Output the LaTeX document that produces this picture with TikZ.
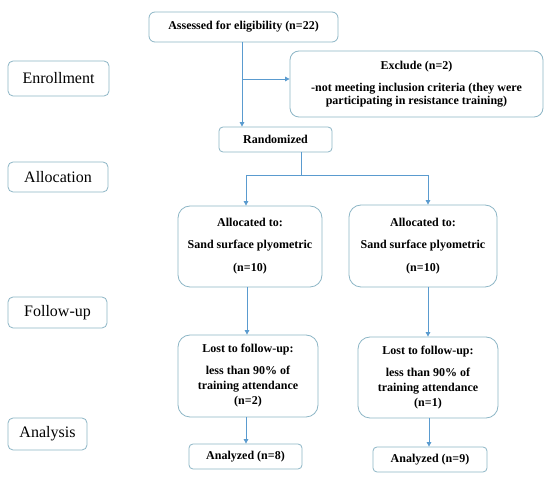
\documentclass[tikz,border=0pt]{standalone}
\usepackage{fontspec}
\setmainfont{Liberation Serif}
\usetikzlibrary{arrows.meta,calc}
\definecolor{boxc}{HTML}{8DB6C6}
\definecolor{linec}{HTML}{5A9BCF}
\begin{document}
\begin{tikzpicture}[x=1pt,y=-1pt,
  box/.style={draw=boxc,line width=0.8pt,rounded corners=6pt,inner sep=0pt,align=center,font=\bfseries\fontsize{12}{14}\selectfont},
  stage/.style={draw=boxc,line width=0.8pt,rounded corners=5pt,inner sep=0pt,align=center,font=\fontsize{16}{18}\selectfont},
  arr/.style={draw=linec,line width=0.8pt,-{Triangle[length=4.5pt,width=4.5pt]}},
  ln/.style={draw=linec,line width=0.8pt}]
\useasboundingbox (0,0) rectangle (550,478);
\fill[white] (0,0) rectangle (550,478);
% stage labels
\node[stage,minimum width=101pt,minimum height=35pt] (enroll) at (58.5,78.5) {Enrollment};
\node[stage,minimum width=100pt,minimum height=30pt] (allocs) at (58,177) {Allocation};
\node[stage,minimum width=99pt,minimum height=31pt] (follow) at (57.5,312.5) {Follow-up};
\node[stage,minimum width=79pt,minimum height=32pt] (analysis) at (47.5,434) {Analysis};
% flow boxes
\node[box,minimum width=189pt,minimum height=30pt] (assess) at (243.5,27) {Assessed for eligibility (n=22)};
\node[box,rounded corners=9pt,minimum width=253pt,minimum height=66pt] (exclude) at (416.5,84)
  {Exclude (n=2)\\[8pt]-not meeting inclusion criteria (they were\\[-1pt]participating in resistance training)};
\node[box,rounded corners=4pt,minimum width=113pt,minimum height=25pt] (rand) at (275.5,139.5) {Randomized};
\node[box,rounded corners=12pt,minimum width=144pt,minimum height=81pt] (a1) at (250,246.5)
  {Allocated to:\\[8pt]Sand surface plyometric\\[9pt](n=10)};
\node[box,rounded corners=12pt,minimum width=148pt,minimum height=82pt] (a2) at (423,246)
  {Allocated to:\\[8pt]Sand surface plyometric\\[9pt](n=10)};
\node[box,rounded corners=12pt,minimum width=140pt,minimum height=82pt] (l1) at (248,376)
  {Lost to follow-up:\\[8pt]less than 90\% of\\[1pt]training attendance\\[1pt](n=2)};
\node[box,rounded corners=12pt,minimum width=140pt,minimum height=81pt] (l2) at (428,377.5)
  {Lost to follow-up:\\[8pt]less than 90\% of\\[1pt]training attendance\\[1pt](n=1)};
\node[box,rounded corners=4pt,minimum width=113pt,minimum height=25pt] (an1) at (245.5,456.5) {Analyzed (n=8)};
\node[box,rounded corners=4pt,minimum width=114pt,minimum height=25pt] (an2) at (430,459.5) {Analyzed (n=9)};
% connectors
\coordinate (s1) at (242,42);
\coordinate (br) at (242,79);
\coordinate (rs) at (301,152);
\coordinate (sp) at (301,175);
\coordinate (spl) at (246,175);
\coordinate (spr) at (428,175);
\coordinate (d1) at (247,287);
\coordinate (d2) at (428,287);
\coordinate (e1) at (246,417);
\coordinate (e2) at (429,418);
\draw[arr] (s1) -- (s1 |- rand.north);
\draw[arr] (br) -- (br -| exclude.west);
\draw[ln] (rs) -- (sp);
\draw[ln] (spl) -- (spr);
\draw[arr] (spl) -- (spl |- a1.north);
\draw[arr] (spr) -- (spr |- a2.north);
\draw[arr] (d1) -- (d1 |- l1.north);
\draw[arr] (d2) -- (d2 |- l2.north);
\draw[arr] (e1) -- (e1 |- an1.north);
\draw[arr] (e2) -- (e2 |- an2.north);
\end{tikzpicture}
\end{document}
